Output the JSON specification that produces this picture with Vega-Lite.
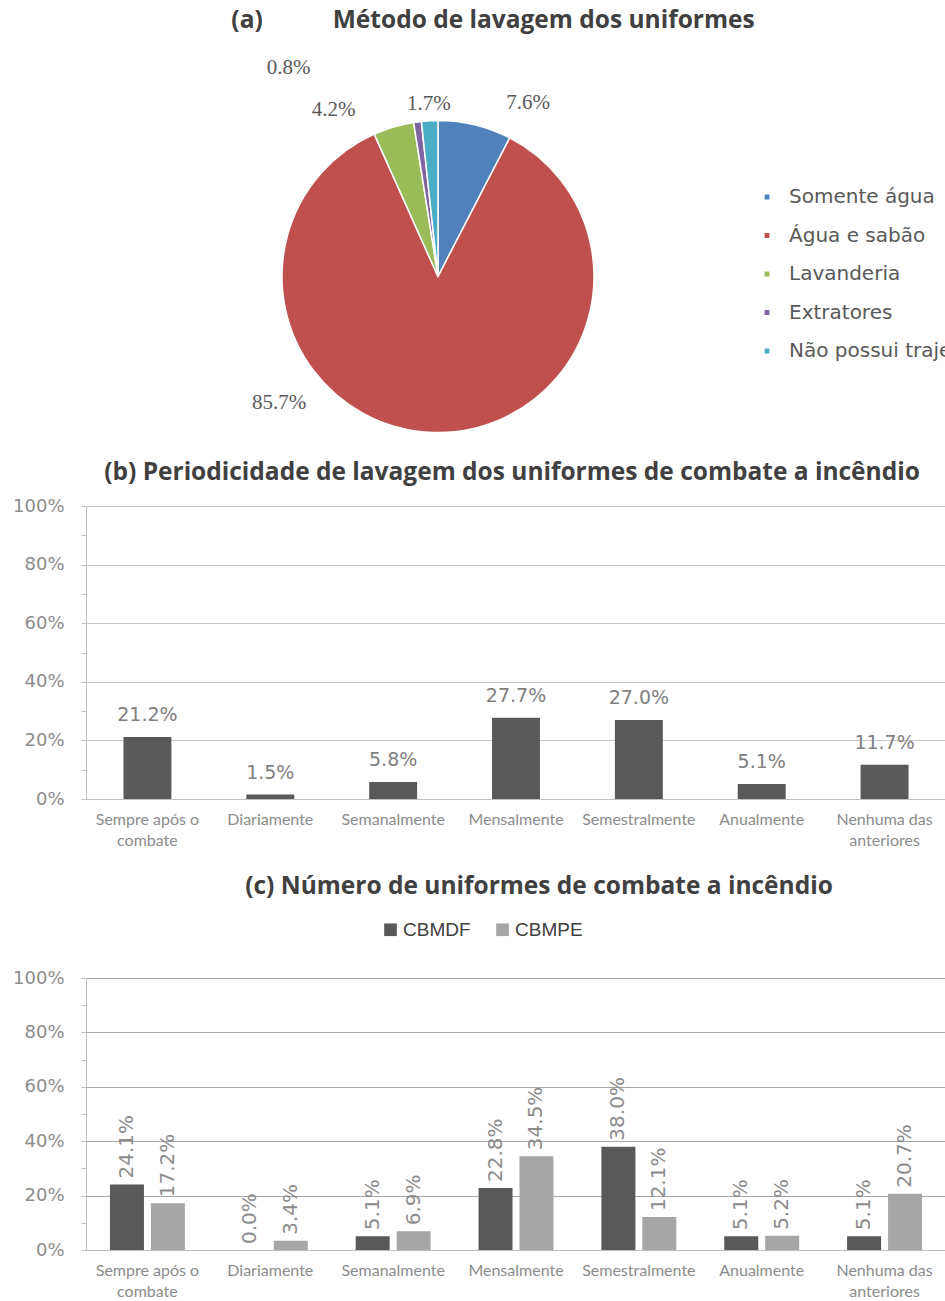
{
  "$schema": "https://vega.github.io/schema/vega-lite/v6.json",
  "padding": {"left": 12, "top": 8, "right": 0, "bottom": 0},
  "bounds": "flush",
  "spacing": 179,
  "resolve": {"scale": {"color": "independent"}, "legend": {"color": "independent"}},
  "config": {"view": {"stroke": null}},
  "vconcat": [
    {
      "width": 704,
      "height": 101,
      "title": {"text": "(a)\u00a0\u00a0\u00a0\u00a0\u00a0\u00a0\u00a0\u00a0\u00a0\u00a0\u00a0Método de lavagem dos uniformes", "frame": "group", "anchor": "middle", "dx": 55, "offset": 19, "font": "Open Sans", "fontSize": 24.5, "fontWeight": "bold", "color": "#404040"},
      "data": {"values": [
        {"metodo": "Somente água", "pct": 0.076},
        {"metodo": "Água e sabão", "pct": 0.857},
        {"metodo": "Lavanderia", "pct": 0.042},
        {"metodo": "Extratores", "pct": 0.008},
        {"metodo": "Não possui traje", "pct": 0.017}
      ]},
      "transform": [{"window": [{"op": "row_number", "as": "ordem"}]}],
      "encoding": {
        "theta": {"field": "pct", "type": "quantitative", "stack": true},
        "order": {"field": "ordem", "type": "quantitative"}
      },
      "layer": [
        {
          "mark": {"type": "arc", "radius": 156, "stroke": "white", "strokeWidth": 1.5},
          "encoding": {
            "color": {"field": "metodo", "type": "nominal", "sort": null,
              "scale": {"domain": ["Somente água", "Água e sabão", "Lavanderia", "Extratores", "Não possui traje"], "range": ["#4F81BD", "#C0504D", "#9BBB59", "#8064A2", "#4BACC6"]},
              "legend": {"title": null, "orient": "none", "direction": "vertical", "legendX": 671, "legendY": -39, "symbolType": "square", "symbolSize": 40, "labelFont": "DejaVu Sans", "labelFontSize": 20, "labelColor": "#595959", "labelOffset": 12, "rowPadding": 18.5, "labelLimit": 400}}
          }
        },
        {
          "mark": {"type": "text", "radius": 170, "dx": 50, "dy": -8, "font": "Liberation Serif", "fontSize": 21, "color": "#595959"},
          "encoding": {"text": {"condition": {"test": "datum.metodo === 'Somente água'", "field": "pct", "type": "quantitative", "format": ".1%"}, "value": ""}}
        },
        {
          "mark": {"type": "text", "radius": 170, "dx": -154, "dy": -43, "font": "Liberation Serif", "fontSize": 21, "color": "#595959"},
          "encoding": {"text": {"condition": {"test": "datum.metodo === 'Água e sabão'", "field": "pct", "type": "quantitative", "format": ".1%"}, "value": ""}}
        },
        {
          "mark": {"type": "text", "radius": 170, "dx": -56, "dy": -4, "font": "Liberation Serif", "fontSize": 21, "color": "#595959"},
          "encoding": {"text": {"condition": {"test": "datum.metodo === 'Lavanderia'", "field": "pct", "type": "quantitative", "format": ".1%"}, "value": ""}}
        },
        {
          "mark": {"type": "text", "radius": 170, "dx": -127, "dy": -40, "font": "Liberation Serif", "fontSize": 21, "color": "#595959"},
          "encoding": {"text": {"condition": {"test": "datum.metodo === 'Extratores'", "field": "pct", "type": "quantitative", "format": ".1%"}, "value": ""}}
        },
        {
          "mark": {"type": "text", "radius": 170, "dx": 0, "dy": -3, "font": "Liberation Serif", "fontSize": 21, "color": "#595959"},
          "encoding": {"text": {"condition": {"test": "datum.metodo === 'Não possui traje'", "field": "pct", "type": "quantitative", "format": ".1%"}, "value": ""}}
        }
      ]
    },
    {
      "width": 860,
      "height": 293,
      "view": {"stroke": "#c8c8c8"},
      "title": {"text": "(b) Periodicidade de lavagem dos uniformes de combate a incêndio", "frame": "group", "anchor": "middle", "dx": -4, "offset": 12, "font": "Open Sans", "fontSize": 24.5, "fontWeight": "bold", "color": "#404040"},
      "data": {"values": [
        {"periodo": "Sempre após o combate", "valor": 0.212},
        {"periodo": "Diariamente", "valor": 0.015},
        {"periodo": "Semanalmente", "valor": 0.058},
        {"periodo": "Mensalmente", "valor": 0.277},
        {"periodo": "Semestralmente", "valor": 0.270},
        {"periodo": "Anualmente", "valor": 0.051},
        {"periodo": "Nenhuma das anteriores", "valor": 0.117}
      ]},
      "encoding": {
        "x": {"field": "periodo", "type": "nominal", "sort": null,
          "scale": {"paddingInner": 0.61, "paddingOuter": 0.305},
          "axis": {"title": null, "labelAngle": 0, "ticks": false, "domainColor": "#bfbfbf", "labelFont": "Lato", "labelFontSize": 16, "labelColor": "#8c8c8c", "labelPadding": 12, "labelLineHeight": 21, "labelBaseline": "top",
            "labelExpr": "datum.label == 'Sempre após o combate' ? ['Sempre após o', 'combate'] : datum.label == 'Nenhuma das anteriores' ? ['Nenhuma das', 'anteriores'] : datum.label"}},
        "y": {"field": "valor", "type": "quantitative", "scale": {"domain": [0, 1]},
          "axis": {"title": null, "values": [0, 0.1, 0.2, 0.3, 0.4, 0.5, 0.6, 0.7, 0.8, 0.9, 1],
            "labelExpr": "round(datum.value*10) % 2 == 0 ? format(datum.value, '.0%') : ''",
            "gridColor": "#c8c8c8", "gridOpacity": {"condition": {"test": "round(datum.value*10) % 2 == 0", "value": 1}, "value": 0},
            "domainColor": "#bfbfbf", "tickColor": "#bfbfbf", "tickSize": 5, "labelPadding": 17,
            "labelFont": "DejaVu Sans", "labelFontSize": 18, "labelColor": "#8c8c8c"}}
      },
      "layer": [
        {"mark": {"type": "bar", "color": "#595959"}},
        {"mark": {"type": "text", "baseline": "bottom", "dy": -12, "font": "DejaVu Sans", "fontSize": 19, "color": "#7f7f7f"},
          "encoding": {"text": {"field": "valor", "type": "quantitative", "format": ".1%"}}}
      ]
    },
    {
      "width": 860,
      "height": 272,
      "title": {"text": "(c) Número de uniformes de combate a incêndio", "frame": "group", "anchor": "middle", "dx": 23, "offset": 21, "font": "Open Sans", "fontSize": 24.5, "fontWeight": "bold", "color": "#404040"},
      "data": {"values": [
        {"periodo": "Sempre após o combate", "corpo": "CBMDF", "valor": 0.241},
        {"periodo": "Sempre após o combate", "corpo": "CBMPE", "valor": 0.172},
        {"periodo": "Diariamente", "corpo": "CBMDF", "valor": 0.0},
        {"periodo": "Diariamente", "corpo": "CBMPE", "valor": 0.034},
        {"periodo": "Semanalmente", "corpo": "CBMDF", "valor": 0.051},
        {"periodo": "Semanalmente", "corpo": "CBMPE", "valor": 0.069},
        {"periodo": "Mensalmente", "corpo": "CBMDF", "valor": 0.228},
        {"periodo": "Mensalmente", "corpo": "CBMPE", "valor": 0.345},
        {"periodo": "Semestralmente", "corpo": "CBMDF", "valor": 0.380},
        {"periodo": "Semestralmente", "corpo": "CBMPE", "valor": 0.121},
        {"periodo": "Anualmente", "corpo": "CBMDF", "valor": 0.051},
        {"periodo": "Anualmente", "corpo": "CBMPE", "valor": 0.052},
        {"periodo": "Nenhuma das anteriores", "corpo": "CBMDF", "valor": 0.051},
        {"periodo": "Nenhuma das anteriores", "corpo": "CBMPE", "valor": 0.207}
      ]},
      "encoding": {
        "x": {"field": "periodo", "type": "nominal", "sort": null,
          "scale": {"paddingInner": 0.39, "paddingOuter": 0.195},
          "axis": {"title": null, "labelAngle": 0, "ticks": false, "domainColor": "#bfbfbf", "labelFont": "Lato", "labelFontSize": 16, "labelColor": "#8c8c8c", "labelPadding": 12, "labelLineHeight": 21, "labelBaseline": "top",
            "labelExpr": "datum.label == 'Sempre após o combate' ? ['Sempre após o', 'combate'] : datum.label == 'Nenhuma das anteriores' ? ['Nenhuma das', 'anteriores'] : datum.label"}},
        "xOffset": {"field": "corpo", "type": "nominal", "scale": {"paddingInner": 0.17, "paddingOuter": 0}},
        "y": {"field": "valor", "type": "quantitative", "scale": {"domain": [0, 1]},
          "axis": {"title": null, "values": [0, 0.1, 0.2, 0.3, 0.4, 0.5, 0.6, 0.7, 0.8, 0.9, 1],
            "labelExpr": "round(datum.value*10) % 2 == 0 ? format(datum.value, '.0%') : ''",
            "gridColor": "#a6a6a6", "gridOpacity": {"condition": {"test": "round(datum.value*10) % 2 == 0", "value": 1}, "value": 0},
            "domainColor": "#bfbfbf", "tickColor": "#bfbfbf", "tickSize": 5, "labelPadding": 17,
            "labelFont": "DejaVu Sans", "labelFontSize": 18, "labelColor": "#8c8c8c"}}
      },
      "layer": [
        {"mark": {"type": "bar"},
          "encoding": {"color": {"field": "corpo", "type": "nominal",
            "scale": {"domain": ["CBMDF", "CBMPE"], "range": ["#595959", "#a6a6a6"]},
            "legend": {"title": null, "orient": "none", "direction": "horizontal", "legendX": 295, "legendY": -58, "symbolType": "square", "symbolSize": 160, "symbolStrokeWidth": 0, "labelFont": "Liberation Sans", "labelFontSize": 19, "labelColor": "#404040", "labelOffset": 3, "columnPadding": 22}}}},
        {"mark": {"type": "text", "angle": 270, "align": "left", "baseline": "middle", "dx": 6, "font": "DejaVu Sans", "fontSize": 20, "color": "#8c8c8c"},
          "encoding": {"text": {"field": "valor", "type": "quantitative", "format": ".1%"}}}
      ]
    }
  ]
}
